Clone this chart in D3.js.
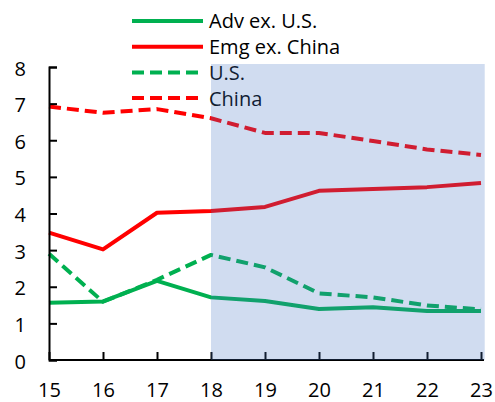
<!DOCTYPE html>
<html><head><meta charset="utf-8">
<script src="https://cdn.jsdelivr.net/npm/d3@7"></script>
<style>body{margin:0;background:#fff}svg{display:block}text{font-family:"Open Sans",sans-serif}</style>
</head><body>
<script>
const years = [15,16,17,18,19,20,21,22,23];
const advExUS = [1.56,1.60,2.16,1.71,1.61,1.39,1.44,1.34,1.34];
const emgExChina = [3.48,3.02,4.02,4.07,4.18,4.62,4.67,4.72,4.83];
const us = [2.90,1.59,2.19,2.87,2.53,1.82,1.71,1.49,1.38];
const china = [6.92,6.75,6.85,6.60,6.20,6.20,5.98,5.75,5.60];
const yTicks = [0,1,2,3,4,5,6,7,8];
const seriesNames = ["Adv ex. U.S.","Emg ex. China","U.S.","China"];
const shadeStart = 18, shadeEnd = 23.05;

const series = [
  {name: seriesNames[0], values: advExUS, color:"#00b050", dash:null},
  {name: seriesNames[1], values: emgExChina, color:"#ff0000", dash:null},
  {name: seriesNames[2], values: us, color:"#00b050", dash:"12,6"},
  {name: seriesNames[3], values: china, color:"#ff0000", dash:"12,6"}
];

const W=495,H=402;
const svg=d3.select("body").append("svg").attr("width",W).attr("height",H);
const x=d3.scaleLinear().domain([15,23]).range([49,481]);
const y=d3.scaleLinear().domain([0,8]).range([360,67]);

const line=d3.line().x((d,i)=>x(years[i])).y(d=>y(d));
series.forEach(s=>{
  svg.append("path").attr("d",line(s.values)).attr("fill","none")
    .attr("stroke",s.color).attr("stroke-width",4)
    .attr("stroke-dasharray",s.dash).attr("stroke-linejoin","round");
});

// legend
const lg=svg.append("g");
series.forEach((s,i)=>{
  const ly=21+i*25.7;
  lg.append("line").attr("x1",132).attr("x2",203).attr("y1",ly).attr("y2",ly)
    .attr("stroke",s.color).attr("stroke-width",4).attr("stroke-dasharray",s.dash);
  lg.append("text").attr("x",209).attr("y",ly).attr("dy","0.37em")
    .attr("font-size",20).attr("fill","#000").text(s.name);
});

// axes
const yAxis=d3.axisLeft(y).tickValues(yTicks).tickSize(-8).tickPadding(23);
const gy=svg.append("g").attr("transform","translate(49,0)").call(yAxis);
gy.select(".domain").attr("stroke","#000").attr("stroke-width",2);
gy.selectAll(".tick line").attr("stroke","#000").attr("stroke-width",2);
gy.selectAll(".tick text").attr("font-size",20).attr("font-family","Open Sans").attr("fill","#000").attr("dy","0.4em");

const xAxis=d3.axisBottom(x).tickValues(years).tickSize(-8).tickPadding(23).tickSizeOuter(0);
const gx=svg.append("g").attr("transform","translate(0,360)").call(xAxis);
gx.select(".domain").attr("stroke","#000").attr("stroke-width",2).attr("d","M49,0H484");
gx.selectAll(".tick line").attr("stroke","#000").attr("stroke-width",2);
gx.selectAll(".tick text").attr("font-size",20).attr("font-family","Open Sans").attr("fill","#000");

// shaded forecast region overlay
svg.append("rect").attr("x",x(shadeStart)).attr("y",64)
  .attr("width",x(shadeEnd)-x(shadeStart)+1).attr("height",y(0)-64)
  .attr("fill","#4472c4").attr("fill-opacity",0.25);
</script>
</body></html>
